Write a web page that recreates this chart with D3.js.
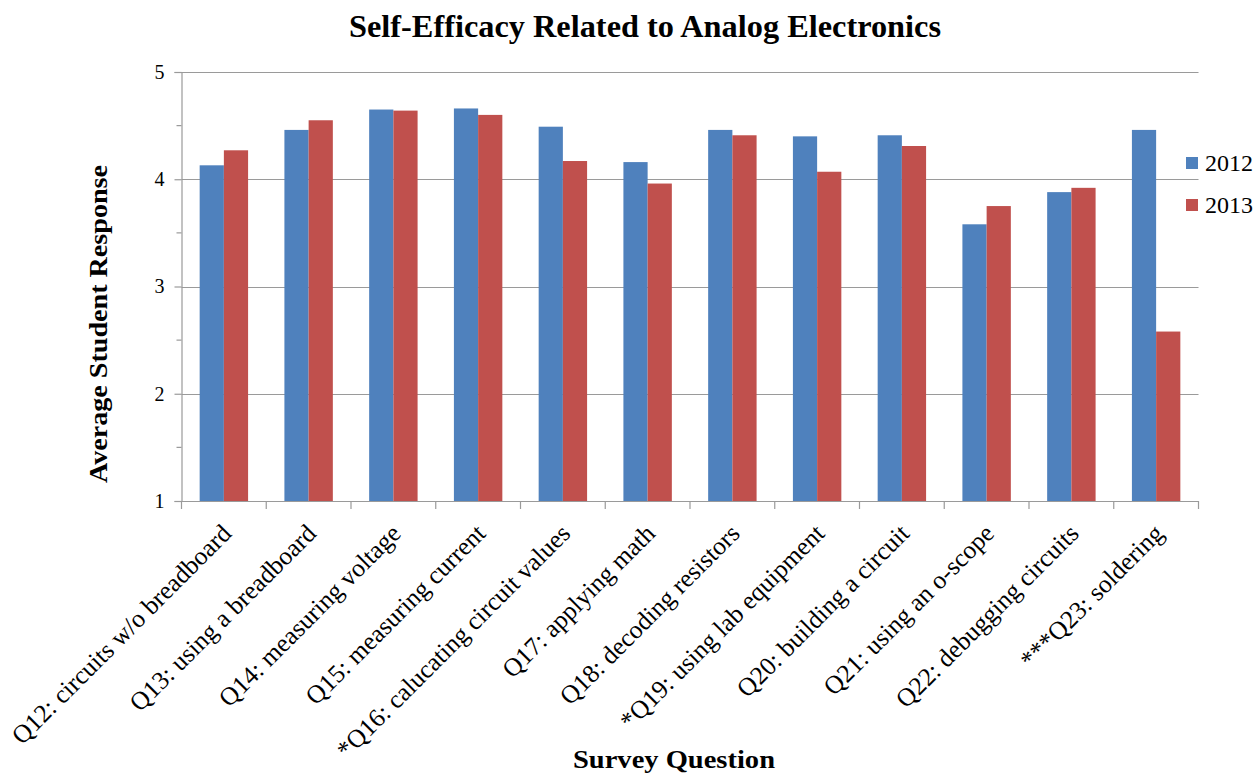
<!DOCTYPE html>
<html>
<head>
<meta charset="utf-8">
<script src="https://cdn.jsdelivr.net/npm/d3@7"></script>
<style>
  html, body { margin: 0; padding: 0; background: #fff; }
  svg { display: block; }
  text { font-family: "Liberation Serif", "Times New Roman", serif; fill: #000; }
</style>
</head>
<body>
<svg id="chart" width="1257" height="777"></svg>
<script>
const categories = [
  "Q12: circuits w/o breadboard",
  "Q13: using a breadboard",
  "Q14: measuring voltage",
  "Q15: measuring current",
  "*Q16: calucating circuit values",
  "Q17: applying math",
  "Q18: decoding resistors",
  "*Q19: using lab equipment",
  "Q20: building a circuit",
  "Q21: using an o-scope",
  "Q22: debugging circuits",
  "***Q23: soldering"
];
const seriesNames = ["2012", "2013"];
const values2012 = [4.13, 4.46, 4.65, 4.66, 4.49, 4.16, 4.46, 4.40, 4.41, 3.58, 3.88, 4.46];
const values2013 = [4.27, 4.55, 4.64, 4.60, 4.17, 3.96, 4.41, 4.07, 4.31, 3.75, 3.92, 2.58];
const yTicks = [1, 2, 3, 4, 5];
const yMinorTicks = [1.5, 2.5, 3.5, 4.5];
const colors = ["#4F81BD", "#C0504D"];

(function () {
const svg = d3.select("#chart");
const pLeft = 181.5, pRight = 1198.5, pTop = 72, pBottom = 501;

const x0 = d3.scaleBand().domain(categories).range([pLeft, pRight]).paddingInner(0).paddingOuter(0);
const x1 = d3.scaleBand().domain(seriesNames).range([0, x0.bandwidth()]).paddingInner(0).paddingOuter(0.75);
const y = d3.scaleLinear().domain([1, 5]).range([pBottom, pTop]);
const color = d3.scaleOrdinal().domain(seriesNames).range(colors);

const gridColor = "#9a9a9a";

// gridlines
svg.append("g").selectAll("line").data(yTicks.filter(d => d > 1)).join("line")
  .attr("x1", pLeft).attr("x2", pRight)
  .attr("y1", d => Math.round(y(d)) + 0.5).attr("y2", d => Math.round(y(d)) + 0.5)
  .attr("stroke", gridColor).attr("stroke-width", 1.2);

// bars
const rows = categories.map((c, i) => ({ cat: c, vals: [values2012[i], values2013[i]] }));
const groups = svg.append("g").selectAll("g").data(rows).join("g")
  .attr("transform", d => `translate(${x0(d.cat)},0)`);
groups.selectAll("rect").data(d => d.vals.map((v, k) => ({ s: seriesNames[k], v }))).join("rect")
  .attr("x", d => x1(d.s))
  .attr("width", x1.bandwidth())
  .attr("y", d => y(d.v))
  .attr("height", d => y(1) - y(d.v))
  .attr("fill", d => color(d.s));

// y axis
const yAxis = d3.axisLeft(y).tickValues(yTicks).tickSize(7).tickPadding(10).tickFormat(d3.format("d"));
const gy = svg.append("g").attr("transform", `translate(${pLeft},0)`).call(yAxis);
gy.select(".domain").attr("stroke", gridColor).attr("stroke-width", 1.2);
gy.selectAll(".tick line").attr("stroke", gridColor).attr("stroke-width", 1.2);
gy.selectAll(".tick text").style("font-family", "'Liberation Serif', serif").style("font-size", "20px").attr("fill", "#000");
svg.append("g").selectAll("line").data(yMinorTicks).join("line")
  .attr("x1", pLeft - 5).attr("x2", pLeft)
  .attr("y1", d => y(d)).attr("y2", d => y(d))
  .attr("stroke", gridColor).attr("stroke-width", 1.2);

// x axis
const xAxis = d3.axisBottom(x0).tickSize(0).tickFormat("");
const gx = svg.append("g").attr("transform", `translate(0,${pBottom})`).call(xAxis);
gx.select(".domain").attr("stroke", gridColor).attr("stroke-width", 1.2);
const boundaries = categories.map(c => x0(c)).concat([pRight]);
svg.append("g").selectAll("line").data(boundaries).join("line")
  .attr("x1", d => d).attr("x2", d => d)
  .attr("y1", pBottom).attr("y2", pBottom + 8)
  .attr("stroke", gridColor).attr("stroke-width", 1.2);

// category labels
svg.append("g").selectAll("text").data(categories).join("text")
  .attr("transform", d => `translate(${x0(d) + x0.bandwidth() / 2 + 9},${pBottom + 34}) rotate(-45)`)
  .attr("text-anchor", "end")
  .style("font-size", "25.5px")
  .text(d => d);

// title
svg.append("text")
  .attr("x", 645).attr("y", 37)
  .attr("text-anchor", "middle")
  .attr("textLength", 592).attr("lengthAdjust", "spacingAndGlyphs")
  .style("font-size", "31px").style("font-weight", "bold")
  .text("Self-Efficacy Related to Analog Electronics");

// y label
svg.append("text")
  .attr("transform", `translate(107,324) rotate(-90)`)
  .attr("text-anchor", "middle")
  .attr("textLength", 318).attr("lengthAdjust", "spacingAndGlyphs")
  .style("font-size", "26px").style("font-weight", "bold")
  .text("Average Student Response");

// x label
svg.append("text")
  .attr("x", 674).attr("y", 768)
  .attr("text-anchor", "middle")
  .attr("textLength", 202).attr("lengthAdjust", "spacingAndGlyphs")
  .style("font-size", "25px").style("font-weight", "bold")
  .text("Survey Question");

// legend
const legend = svg.append("g").selectAll("g").data(seriesNames).join("g")
  .attr("transform", (d, i) => `translate(1186,${157 + i * 42})`);
legend.append("rect").attr("width", 12).attr("height", 12).attr("fill", d => color(d));
legend.append("text").attr("x", 19).attr("y", 14).style("font-size", "24px").text(d => d);
})();
</script>
</body>
</html>
